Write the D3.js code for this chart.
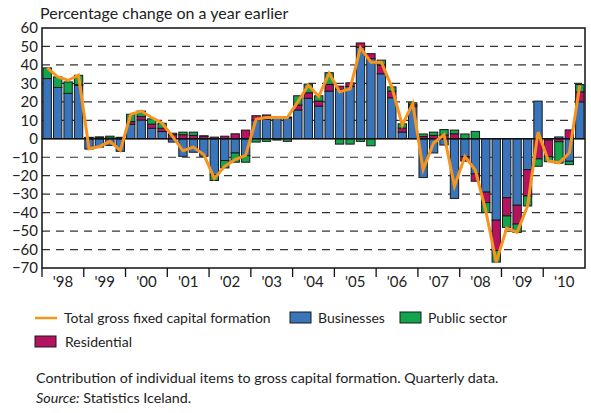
<!DOCTYPE html>
<html>
<head>
<meta charset="utf-8">
<script src="https://cdn.jsdelivr.net/npm/d3@7"></script>
<style>
  body { margin: 0; background: #fff; }
  svg { display: block; font-family: Lato, "Open Sans", sans-serif; }
</style>
</head>
<body>
<div id="chart"></div>
<script>
// year labels, one per 4 quarters
var years = ["'98", "'99", "'00", "'01", "'02", "'03", "'04", "'05", "'06", "'07", "'08", "'09", "'10"];

// contributions, percentage points (quarterly, 1998Q1 - 2010Q4)
var businesses = [32.6, 27.8, 24.6, 29.0, -5.6, -4.5, -3.6, -6.8, 7.9, 10.2,
  5.7, 3.9, -1.8, -9.5, -7.3, -9.5, -19.4, -11.8, -7.7, -9.1,
  10.2, 10.6, 11.0, 11.3, 15.6, 21.9, 17.7, 25.8, 26.7, 28.3,
  49.6, 43.4, 35.2, 22.2, 3.6, 17.4, -21.0, -7.7, -3.4, -32.3,
  -9.6, -19.0, -28.9, -44.1, -31.9, -36.0, -16.7, 20.4, -0.7, 1.0,
  -12.2, 20.0];
var residential = [0, 0, 0, 0.3, 0.5, 0.8, 0.4, 0.6, 1.4, 1.8,
  2.2, 1.8, 2.2, 2.2, 1.8, 1.4, 0.9, 1.4, 2.7, 4.7,
  2.3, 2.3, 0.3, 0.5, 2.7, 3.0, 2.7, 3.6, 1.8, 2.0,
  2.3, 2.7, 4.8, 3.6, 2.2, 1.0, 1.2, 1.8, 2.0, 2.7,
  -2.5, -4.0, -5.7, -16.5, -9.9, -10.2, -14.3, -10.9, -9.0, -1.6,
  4.8, 5.4];
var publicSector = [5.8, 5.7, 6.2, 5.1, 0.3, 0.2, 1.0, 0.2, 4.0, 3.0,
  2.9, 2.7, 0.8, 1.4, 1.8, 0.2, -3.2, -4.0, -5.0, -3.6,
  -1.8, -1.4, -0.7, -1.4, 5.0, 4.7, 2.9, 6.4, -2.9, -2.9,
  -1.4, -3.8, 2.6, 2.3, 2.3, 1.1, 1.4, 1.8, 3.0, 2.0,
  2.6, 4.0, -5.4, -6.2, -6.2, -4.5, -5.4, -4.0, -2.7, -11.6,
  -1.8, 4.0];
// total gross fixed capital formation, % change on a year earlier
var total = [38.4, 33.5, 31.7, 34.4, -5.4, -4.3, -1.4, -6.3, 13.3, 15.0,
  11.5, 8.4, 1.3, -6.5, -4.5, -8.6, -21.5, -14.9, -11.3, -9.0,
  10.5, 11.5, 11.5, 11.5, 20.0, 29.0, 23.0, 35.5, 25.5, 27.0,
  49.3, 41.5, 41.5, 28.0, 7.5, 19.0, -16.7, -2.3, 2.2, -25.6,
  -9.6, -17.0, -39.0, -66.8, -48.4, -50.7, -36.4, 3.6, -12.0, -13.0,
  -7.7, 29.0];
var yTicks = [60, 50, 40, 30, 20, 10, 0, -10, -20, -30, -40, -50, -60, -70];

var keys = ["Businesses", "Residential", "Public sector"];
var colors = { "Businesses": "#3a75bb", "Residential": "#b5135f", "Public sector": "#13a54c" };

var rows = businesses.map(function(b, i) {
  return { q: i, "Businesses": b, "Residential": residential[i], "Public sector": publicSector[i], total: total[i] };
});

var W = 591, H = 413;
var plotL = 42, plotR = 585, plotT = 28, plotB = 268;

var svg = d3.select("#chart").append("svg")
  .attr("width", W).attr("height", H);

var x = d3.scaleBand().domain(d3.range(rows.length)).range([plotL, plotR])
  .paddingInner(0.2).paddingOuter(0.1);
var xYear = d3.scaleBand().domain(years).range([plotL, plotR]);
var y = d3.scaleLinear().domain([-70, 60]).range([plotB, plotT]);

// title
svg.append("text").attr("x", 40).attr("y", 19)
  .style("font-size", "16px").attr("fill", "#222")
  .text("Percentage change on a year earlier");

// dashed gridlines
svg.append("g").selectAll("line")
  .data(yTicks.filter(function(d) { return d !== 0 && d !== 60 && d !== -70; }))
  .enter().append("line")
  .attr("x1", plotL).attr("x2", plotR)
  .attr("y1", function(d) { return y(d); }).attr("y2", function(d) { return y(d); })
  .attr("stroke", "#333").attr("stroke-width", 1.2)
  .attr("stroke-dasharray", "8,6");

// stacked bars
var stack = d3.stack().keys(keys).offset(d3.stackOffsetDiverging);
var series = stack(rows);

svg.append("g").selectAll("g")
  .data(series)
  .enter().append("g")
  .attr("fill", function(d) { return colors[d.key]; })
  .selectAll("rect")
  .data(function(d) { return d; })
  .enter().append("rect")
  .attr("x", function(d) { return x(d.data.q); })
  .attr("width", x.bandwidth())
  .attr("y", function(d) { return y(Math.max(d[0], d[1])); })
  .attr("height", function(d) { return Math.abs(y(d[0]) - y(d[1])); })
  .attr("stroke", "#1a1a1a").attr("stroke-width", 1);

// zero line
svg.append("line")
  .attr("x1", plotL).attr("x2", plotR)
  .attr("y1", y(0)).attr("y2", y(0))
  .attr("stroke", "#111").attr("stroke-width", 1.3);

// frame
svg.append("rect")
  .attr("x", plotL).attr("y", plotT)
  .attr("width", plotR - plotL).attr("height", plotB - plotT)
  .attr("fill", "none").attr("stroke", "#111").attr("stroke-width", 1.5);

// total line
var line = d3.line()
  .x(function(d) { return x(d.q) + x.bandwidth() / 2; })
  .y(function(d) { return y(d.total); });
svg.append("path").datum(rows)
  .attr("d", line)
  .attr("fill", "none").attr("stroke", "#f7941d").attr("stroke-width", 3)
  .attr("stroke-linejoin", "miter");

// y axis labels
var yAxis = svg.append("g")
  .attr("transform", "translate(" + plotL + ",0)")
  .call(d3.axisLeft(y).tickValues(yTicks).tickSize(0).tickPadding(4));
yAxis.select(".domain").remove();
yAxis.selectAll("text").style("font-size", "15px").style("font-family", "Lato, sans-serif").attr("fill", "#222");

// x axis: year labels centered, ticks at year boundaries
var xAxis = svg.append("g")
  .attr("transform", "translate(0," + plotB + ")")
  .call(d3.axisBottom(xYear).tickSize(0).tickPadding(8));
xAxis.select(".domain").remove();
xAxis.selectAll("text").style("font-size", "15px").style("font-family", "Lato, sans-serif").attr("fill", "#222");

svg.append("g").selectAll("line")
  .data(years.slice(1))
  .enter().append("line")
  .attr("x1", function(d) { return xYear(d); }).attr("x2", function(d) { return xYear(d); })
  .attr("y1", plotB).attr("y2", plotB + 9)
  .attr("stroke", "#111").attr("stroke-width", 1.3);
svg.append("line")
  .attr("x1", plotL).attr("x2", plotL).attr("y1", plotB).attr("y2", plotB + 9)
  .attr("stroke", "#111").attr("stroke-width", 1.3);

// legend
var lg = svg.append("g").style("font-size", "14px").attr("fill", "#222");
lg.append("line").attr("x1", 35).attr("x2", 57).attr("y1", 318).attr("y2", 318)
  .attr("stroke", "#f7941d").attr("stroke-width", 2.5);
lg.append("text").attr("x", 64).attr("y", 323).text("Total gross fixed capital formation");

var boxes = [
  { key: "Businesses", x: 290, y: 312, tx: 318 },
  { key: "Public sector", x: 400, y: 312, tx: 428 },
  { key: "Residential", x: 35, y: 336, tx: 65 }
];
boxes.forEach(function(b) {
  lg.append("rect").attr("x", b.x).attr("y", b.y).attr("width", 21).attr("height", 11)
    .attr("fill", colors[b.key]).attr("stroke", "#1a1a1a").attr("stroke-width", 1);
  lg.append("text").attr("x", b.tx).attr("y", b.y + 11).text(b.key);
});

// footnote
var fn = svg.append("g").style("font-size", "14.3px").attr("fill", "#222");
fn.append("text").attr("x", 36).attr("y", 383)
  .text("Contribution of individual items to gross capital formation. Quarterly data.");
var src = fn.append("text").attr("x", 36).attr("y", 403);
src.append("tspan").style("font-style", "italic").text("Source:");
src.append("tspan").text(" Statistics Iceland.");
</script>
</body>
</html>
